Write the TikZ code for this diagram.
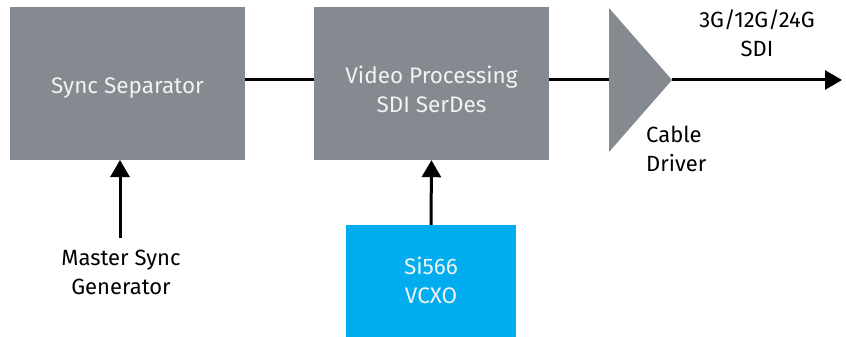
\documentclass[tikz,border=0pt]{standalone}
\usepackage{fontspec}
\setmainfont{Fira Sans}
\usetikzlibrary{arrows.meta}
\definecolor{boxgray}{HTML}{858990}
\definecolor{boxblue}{HTML}{00AEEF}
\definecolor{lighttext}{HTML}{F2F2F2}
\begin{document}
\begin{tikzpicture}[x=1pt,y=-1pt,
  block/.style={fill=boxgray,draw=none,inner sep=0pt},
  btext/.style={text=lighttext,align=center,inner sep=0pt,font=\fontsize{22.5}{29}\selectfont},
  lbl/.style={align=center,font=\fontsize{22}{29}\selectfont,text=black,inner sep=0pt},
  conn/.style={line width=3pt},
  arr/.style={line width=3pt,-{Triangle[length=17pt,width=19pt]}}]
\useasboundingbox (0,0) rectangle (846,337);
\node[block,minimum width=235pt,minimum height=153pt] (sync) at (127.5,83.5) {};
\node[btext] (synct) at (127.5,88) {Sync Separator};
\node[block,minimum width=235pt,minimum height=153pt] (video) at (431.5,83.5) {};
\node[btext] (videot) at (431.5,89) {Video Processing\\SDI SerDes};
\node[block,fill=boxblue,minimum width=170pt,minimum height=112pt] (vcxo) at (431,281) {};
\node[btext] (vcxot) at (431,280) {Si566\\VCXO};
\fill[boxgray] (609,8) coordinate (tl) -- (609,152) coordinate (bl) -- (672,80) coordinate (apex) -- cycle;
\coordinate (drvin) at (609,80);
\coordinate (out) at (842,80);
\coordinate (syncin) at (120,160);
\coordinate (msg) at (120,238);
\node[lbl] (msgt) at (121,272) {Master Sync\\Generator};
\node[lbl] (sdi) at (757,33) {3G/12G/24G\\SDI};
\node[lbl,align=left,anchor=west] (cd) at (646,149) {Cable\\Driver};
\draw[conn] (sync.east |- 0,80) -- (video.west |- 0,80);
\draw[conn] (video.east |- 0,80) -- (drvin);
\draw[arr] (apex) -- (out);
\draw[arr] (msg) -- (syncin);
\draw[arr] (vcxo.north) -- (video.south);
\end{tikzpicture}
\end{document}
